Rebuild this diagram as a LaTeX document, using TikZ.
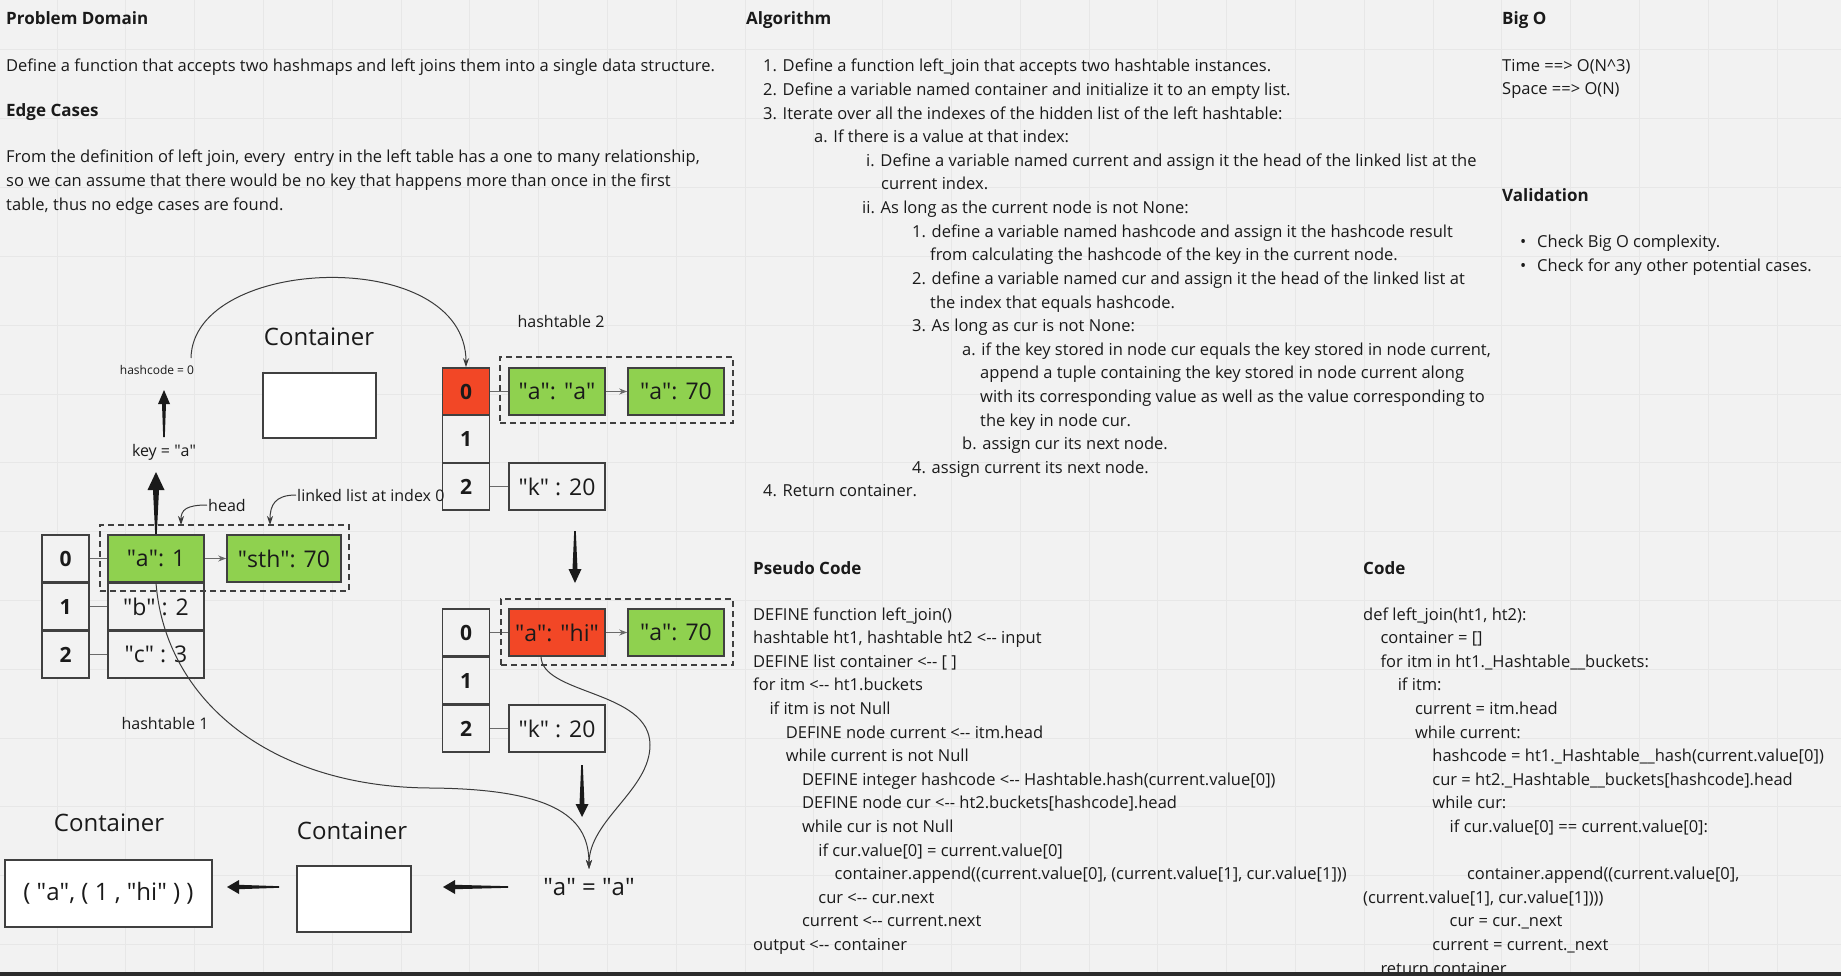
\documentclass[tikz,border=0pt]{standalone}
\usepackage{fontspec}
\setmainfont{Open Sans}
\usetikzlibrary{arrows.meta,calc}
\definecolor{bg}{HTML}{F2F2F2}
\definecolor{gridc}{HTML}{E7E7E7}
\definecolor{ink}{HTML}{1A1A1A}
\definecolor{boxc}{HTML}{404040}
\definecolor{linkc}{HTML}{6A6A6A}
\definecolor{curvec}{HTML}{3A3A3A}
\definecolor{mgreen}{HTML}{8FD14F}
\definecolor{mred}{HTML}{F24726}
\definecolor{barc}{HTML}{2B2B2B}
\newcommand{\qd}{\textquotedbl}
% block arrow: from, to, head length, head half width, shaft half width at head
\newcommand{\blockarr}[5]{%
  \coordinate (ba-h) at ($(#2)!#3!(#1)$);
  \fill[ink] ($(#1)!0.8pt!90:(#2)$) -- ($(ba-h)!#5!90:(#2)$) -- ($(ba-h)!#4!90:(#2)$) -- (#2)
     -- ($(ba-h)!#4!-90:(#2)$) -- ($(ba-h)!#5!-90:(#2)$) -- ($(#1)!0.8pt!-90:(#2)$) -- cycle;}
\begin{document}
\begin{tikzpicture}[x=1pt,y=-1pt,
  txt/.style={anchor=base west,inner sep=0pt,text=ink,font=\fontsize{16.5}{19}\selectfont},
  hd/.style={txt,font=\fontsize{17}{20}\selectfont\bfseries},
  lbl/.style={inner sep=1pt,text=ink,font=\fontsize{16}{19}\selectfont},
  big/.style={inner sep=1pt,text=ink,font=\fontsize{24}{28}\selectfont},
  idx/.style={draw=boxc,line width=1.6pt,fill=bg,minimum width=47pt,minimum height=47pt,inner sep=0pt,text=ink,font=\fontsize{21}{21}\selectfont\bfseries},
  val/.style={draw=boxc,line width=1.6pt,fill=bg,minimum width=96pt,minimum height=47pt,inner sep=0pt,text=ink,font=\fontsize{23}{23}\selectfont},
  grn/.style={val,fill=mgreen},
  redcell/.style={fill=mred},
  dbox/.style={draw=boxc,line width=1.6pt,dash pattern=on 6pt off 4pt,inner sep=0pt},
  link/.style={draw=linkc,line width=1.5pt},
  chain/.style={draw=linkc,line width=1.2pt,-{Stealth[length=8pt,width=6pt]}},
  curve/.style={draw=curvec,line width=1pt,-{Stealth[length=9pt,width=6pt]}},
  whitebox/.style={draw=boxc,line width=1.6pt,fill=white,inner sep=0pt},
]
\useasboundingbox (0,0) rectangle (1841,976);
\fill[bg] (0,0) rectangle (1841,976);
\foreach \i in {0,...,25} \draw[gridc,line width=1pt] ({57+68.8*\i},0) -- ({57+68.8*\i},972);
\foreach \j in {0,...,13} \draw[gridc,line width=1pt] (0,{50+68.8*\j}) -- (1841,{50+68.8*\j});

% ---------------- Problem domain ----------------
\node[hd] (pdh) at (6,25) {Problem Domain};
\node[txt] (pd1) at (6,72) {Define a function that accepts two hashmaps and left joins them into a single data structure.};
\node[hd] (ech) at (6,117) {Edge Cases};
\node[txt] (ec1) at (6,163) {From the definition of left join, every\ \ entry in the left table has a one to many relationship,};
\node[txt] (ec2) at (6,187) {so we can assume that there would be no key that happens more than once in the first};
\node[txt] (ec3) at (6,211) {table, thus no edge cases are found.};

% ---------------- Algorithm ----------------
\node[hd] (algh) at (746,25) {Algorithm};
\foreach \px/\tx [count=\i from 0] in {
 763/{1. Define a function left\_join that accepts two hashtable instances.},
 763/{2. Define a variable named container and initialize it to an empty list.},
 763/{3. Iterate over all the indexes of the hidden list of the left hashtable:},
 814/{a. If there is a value at that index:},
 866/{i. Define a variable named current and assign it the head of the linked list at the},
 881/{current index.},
 862/{ii. As long as the current node is not None:},
 912/{1. define a variable named hashcode and assign it the hashcode result},
 930/{from calculating the hashcode of the key in the current node.},
 912/{2. define a variable named cur and assign it the head of the linked list at},
 930/{the index that equals hashcode.},
 912/{3. As long as cur is not None:},
 962/{a. if the key stored in node cur equals the key stored in node current,},
 980/{append a tuple containing the key stored in node current along},
 980/{with its corresponding value as well as the value corresponding to},
 980/{the key in node cur.},
 962/{b. assign cur its next node.},
 912/{4. assign current its next node.},
 763/{4. Return container.}}
 \node[txt] (alg\i) at (\px,{72+23.6*\i}) {\tx};

% ---------------- Big O / Validation ----------------
\node[hd] (bigh) at (1502,25) {Big O};
\node[txt] (big1) at (1502,72) {Time ==> O(N\textasciicircum 3)};
\node[txt] (big2) at (1502,95) {Space ==> O(N)};
\node[hd] (valh) at (1502,202) {Validation};
\node[txt] (vb1) at (1520,248) {\textbullet};
\node[txt] (val1) at (1537,248) {Check Big O complexity.};
\node[txt] (vb2) at (1520,272) {\textbullet};
\node[txt] (val2) at (1537,272) {Check for any other potential cases.};

% ---------------- Pseudo code ----------------
\node[hd] (psh) at (753,574) {Pseudo Code};
\foreach \px/\tx [count=\i from 0] in {
 0/{DEFINE function left\_join()},
 0/{hashtable ht1, hashtable ht2 <-{}- input},
 0/{DEFINE list container <-{}- [ ]},
 0/{for itm <-{}- ht1.buckets},
 1/{if itm is not Null},
 2/{DEFINE node current <-{}- itm.head},
 2/{while current is not Null},
 3/{DEFINE integer hashcode <-{}- Hashtable.hash(current.value[0])},
 3/{DEFINE node cur <-{}- ht2.buckets[hashcode].head},
 3/{while cur is not Null},
 4/{if cur.value[0] = current.value[0]},
 5/{container.append((current.value[0], (current.value[1], cur.value[1]))},
 4/{cur <-{}- cur.next},
 3/{current <-{}- current.next},
 0/{output <-{}- container}}
 \node[txt] (ps\i) at ({753+16.3*\px},{620+23.6*\i}) {\tx};

% ---------------- Code ----------------
\node[hd] (cdh) at (1363,574) {Code};
\foreach \px/\ln/\tx in {
 0/0/{def left\_join(ht1, ht2):},
 1/1/{container = []},
 1/2/{for itm in ht1.\_Hashtable\_\_buckets:},
 2/3/{if itm:},
 3/4/{current = itm.head},
 3/5/{while current:},
 4/6/{hashcode = ht1.\_Hashtable\_\_hash(current.value[0])},
 4/7/{cur = ht2.\_Hashtable\_\_buckets[hashcode].head},
 4/8/{while cur:},
 5/9/{if cur.value[0] == current.value[0]:},
 6/11/{container.append((current.value[0],},
 0/12/{(current.value[1], cur.value[1])))},
 5/13/{cur = cur.\_next},
 4/14/{current = current.\_next},
 1/15/{return container}}
 \node[txt] (cd\ln) at ({1363+17.3*\px},{620+23.6*\ln}) {\tx};

% ---------------- hashtable 1 ----------------
\node[idx] (h1i0) at (65.5,558.5) {0};
\node[idx] (h1i1) at (65.5,606.5) {1};
\node[idx] (h1i2) at (65.5,654.5) {2};
\node[grn] (h1v0) at (156,558.5) {\qd a\qd: 1};
\node[val] (h1v1) at (156,606.5) {\qd b\qd{} : 2};
\node[val] (h1v2) at (156,654.5) {\qd c\qd{} : 3};
\node[grn,minimum width=114pt] (h1v0b) at (284,558.5) {\qd sth\qd: 70};
\draw[link] (h1i0.east) -- (h1v0.west);
\draw[link] (h1i1.east) -- (h1v1.west);
\draw[link] (h1i2.east) -- (h1v2.west);
\draw[chain] (h1v0.east) -- (h1v0b.west);
\node[dbox,minimum width=249pt,minimum height=66pt] (d1) at (224.5,558) {};
\node[lbl] (ht1l) at (165,723) {hashtable 1};

% ---------------- hashtable 2 ----------------
\node[lbl] (ht2l) at (561,321) {hashtable 2};
\node[idx,redcell] (h2i0) at (466,391.5) {0};
\node[idx] (h2i1) at (466,439) {1};
\node[idx] (h2i2) at (466,486.5) {2};
\node[grn] (h2v0) at (557,391.5) {\qd a\qd: \qd a\qd};
\node[grn] (h2v0b) at (676,391.5) {\qd a\qd: 70};
\node[val] (h2v2) at (557,486.5) {\qd k\qd{} : 20};
\draw[link] (h2i0.east) -- (h2v0.west);
\draw[link] (h2i2.east) -- (h2v2.west);
\draw[chain] (h2v0.east) -- (h2v0b.west);
\node[dbox,minimum width=233pt,minimum height=66pt] (d2) at (616.5,390) {};

% ---------------- hashtable 2 (after) ----------------
\node[idx] (h3i0) at (466,632.5) {0};
\node[idx] (h3i1) at (466,680.5) {1};
\node[idx] (h3i2) at (466,728.5) {2};
\node[val,redcell] (h3v0) at (557,632.5) {\qd a\qd: \qd hi\qd};
\node[grn] (h3v0b) at (676,632.5) {\qd a\qd: 70};
\node[val] (h3v2) at (557,728.5) {\qd k\qd{} : 20};
\draw[link] (h3i0.east) -- (h3v0.west);
\draw[link] (h3i2.east) -- (h3v2.west);
\draw[chain] (h3v0.east) -- (h3v0b.west);
\node[dbox,minimum width=232pt,minimum height=66pt] (d3) at (617,632) {};

% ---------------- labels, containers ----------------
\node[big] (cont1) at (319,337) {Container};
\node[whitebox,minimum width=113pt,minimum height=65pt] (box1) at (319.5,405.5) {};
\node[font=\fontsize{12}{14}\selectfont,text=ink,inner sep=1pt] (hc) at (157,370) {hashcode = 0};
\node[lbl] (key) at (164,452) {key = \qd a\qd};
\node[lbl,anchor=west] (headl) at (207,505) {head};
\node[lbl,anchor=west] (lla) at (296,495) {linked list at index 0};
\node[big] (eq) at (589,887) {\qd a\qd{} = \qd a\qd};
\node[big] (cont2) at (352,831) {Container};
\node[whitebox,minimum width=114pt,minimum height=66pt] (box2) at (354,899) {};
\node[big] (cont3) at (109,823) {Container};
\node[whitebox,minimum width=207pt,minimum height=67pt,font=\fontsize{24}{28}\selectfont,text=ink] (res) at (108.5,893.5) {( \qd a\qd, ( 1 , \qd hi\qd{} ) )};

% ---------------- curves ----------------
\coordinate (c1s) at (191,358);
\draw[curve] (c1s) .. controls (193,255) and (466,245) .. (h2i0.north);
\draw[curve] (headl.west) .. controls (186,505) and (181,510) .. (181,525);
\draw[curve] (lla.west) .. controls (275,495) and (270,505) .. (270,525);
\coordinate (meet) at (589,869);
\draw[curve] (h1v0.south) .. controls (165,700) and (270,787) .. (430,788) .. controls (560,789) and (589,820) .. (meet);
\coordinate (c5s) at (541,656);
\draw[curve] (c5s) .. controls (541,695) and (650,690) .. (650,745) .. controls (650,790) and (589,820) .. (meet);

% ---------------- block arrows ----------------
\coordinate (a1s) at (164,437); \coordinate (a1e) at (164,390);
\blockarr{a1s}{a1e}{14pt}{6pt}{2pt}
\coordinate (a2e) at (156,472);
\blockarr{h1v0.north}{a2e}{18pt}{8.5pt}{3pt}
\coordinate (a3s) at (575,531); \coordinate (a3e) at (575,583);
\blockarr{a3s}{a3e}{14pt}{6.5pt}{2.5pt}
\coordinate (a4s) at (582,765); \coordinate (a4e) at (582,817);
\blockarr{a4s}{a4e}{13pt}{6.5pt}{2.5pt}
\coordinate (a5s) at (508,887); \coordinate (a5e) at (443,887);
\blockarr{a5s}{a5e}{12pt}{7pt}{2.2pt}
\coordinate (a6s) at (279,887); \coordinate (a6e) at (227,887);
\blockarr{a6s}{a6e}{12pt}{7pt}{2.2pt}

\fill[barc] (0,972) rectangle (1841,976);
\end{tikzpicture}
\end{document}
